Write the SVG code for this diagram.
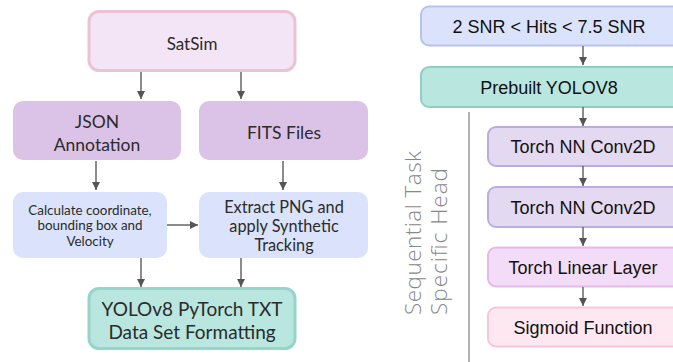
<svg xmlns="http://www.w3.org/2000/svg" width="673" height="362" viewBox="0 0 673 362">
<defs>
<marker id="ah" viewBox="0 0 10 10" refX="10" refY="5" markerWidth="9" markerHeight="8" markerUnits="userSpaceOnUse" orient="auto">
<path d="M0,0 L10,5 L0,10 z" fill="#555"/>
</marker>
<style>
.l{font-family:Lato,"Open Sans",sans-serif;fill:#2b2b2b;text-anchor:middle;dominant-baseline:central}
.r{font-family:"Liberation Sans",Arial,sans-serif;fill:#111;text-anchor:middle;dominant-baseline:central;font-size:18px}
.c{stroke:#666;stroke-width:1.5;fill:none;marker-end:url(#ah)}
.v{font-family:"Open Sans",Lato,sans-serif;font-weight:300;font-size:22.5px;fill:#888}
</style>
</defs>
<rect width="673" height="362" fill="#fff"/>
<g id="satsim"><rect x="89" y="11.5" width="206" height="59" rx="10" fill="#f3e5f5" stroke="#ebc3d4" stroke-width="3"/><text class="l" x="192" y="43" font-size="17">SatSim</text></g>
<g id="json"><rect x="13" y="101" width="168" height="59" rx="10" fill="#dbc3e8"/><text class="l" x="97" y="121" font-size="17.5">JSON</text><text class="l" x="97" y="144" font-size="17.5">Annotation</text></g>
<g id="fits"><rect x="199" y="101" width="169" height="59" rx="10" fill="#dbc3e8"/><text class="l" x="284" y="132" font-size="17.5">FITS Files</text></g>
<g id="calc"><rect x="13" y="192" width="154" height="66" rx="10" fill="#dae3fb"/><text class="l" x="90" y="209.5" font-size="13.4">Calculate coordinate,</text><text class="l" x="90" y="225" font-size="13.4">bounding box and</text><text class="l" x="90" y="240.5" font-size="13.4">Velocity</text></g>
<g id="extract"><rect x="199" y="192" width="169" height="66" rx="10" fill="#dae3fb"/><text class="l" x="284" y="206" font-size="16.3">Extract PNG and</text><text class="l" x="284" y="225" font-size="16.3">apply Synthetic</text><text class="l" x="284" y="244" font-size="16.3">Tracking</text></g>
<g id="yolo"><rect x="89" y="288.5" width="206" height="60" rx="10" fill="#b9e6df" stroke="#97d4c9" stroke-width="3"/><text class="l" x="192" y="308" font-size="19">YOLOv8 PyTorch TXT</text><text class="l" x="192" y="331" font-size="19">Data Set Formatting</text></g>
<g id="snr"><rect x="421" y="6.5" width="260" height="39" rx="8" fill="#dae3fb" stroke="#b6c3ef" stroke-width="2"/><text class="r" x="549" y="27">2 SNR &lt; Hits &lt; 7.5 SNR</text></g>
<g id="prebuilt"><rect x="421" y="67" width="260" height="40" rx="8" fill="#b9e6df" stroke="#8fcfc3" stroke-width="2"/><text class="r" x="549" y="88">Prebuilt YOLOV8</text></g>
<g id="conv1"><rect x="488" y="127" width="192" height="39" rx="8" fill="#e3d9f0" stroke="#b9addf" stroke-width="2"/><text class="r" x="583" y="147">Torch NN Conv2D</text></g>
<g id="conv2"><rect x="488" y="187" width="192" height="40" rx="8" fill="#e3d9f0" stroke="#b9addf" stroke-width="2"/><text class="r" x="583" y="208">Torch NN Conv2D</text></g>
<g id="linear"><rect x="488" y="247.5" width="192" height="39" rx="8" fill="#f3dcf8" stroke="#e6b8e8" stroke-width="2"/><text class="r" x="583" y="268">Torch Linear Layer</text></g>
<g id="sigmoid"><rect x="488" y="307.5" width="192" height="39" rx="8" fill="#fde7f0" stroke="#f8c5da" stroke-width="2"/><text class="r" x="583" y="328">Sigmoid Function</text></g>
<g id="head-label">
<line x1="469" y1="112" x2="469" y2="362" stroke="#999" stroke-width="1.5"/>
<text class="v" transform="translate(421,315) rotate(-90)" textLength="164" lengthAdjust="spacing">Sequential Task</text>
<text class="v" transform="translate(447,315) rotate(-90)" textLength="147" lengthAdjust="spacing">Specific Head</text>
</g>
<g id="connectors">
<line class="c" x1="141" y1="72" x2="141" y2="99"/>
<line class="c" x1="241" y1="72" x2="241" y2="99"/>
<line class="c" x1="96" y1="161" x2="96" y2="190"/>
<line class="c" x1="283" y1="161" x2="283" y2="190"/>
<line class="c" x1="141" y1="258" x2="141" y2="287"/>
<line class="c" x1="241" y1="258" x2="241" y2="287"/>
<line class="c" x1="167" y1="225" x2="198" y2="225"/>
<line class="c" x1="583" y1="46" x2="583" y2="65"/>
<line class="c" x1="583" y1="107" x2="583" y2="126"/>
<line class="c" x1="583" y1="166" x2="583" y2="186"/>
<line class="c" x1="583" y1="227" x2="583" y2="246"/>
<line class="c" x1="583" y1="287" x2="583" y2="306"/>
</g>
</svg>
